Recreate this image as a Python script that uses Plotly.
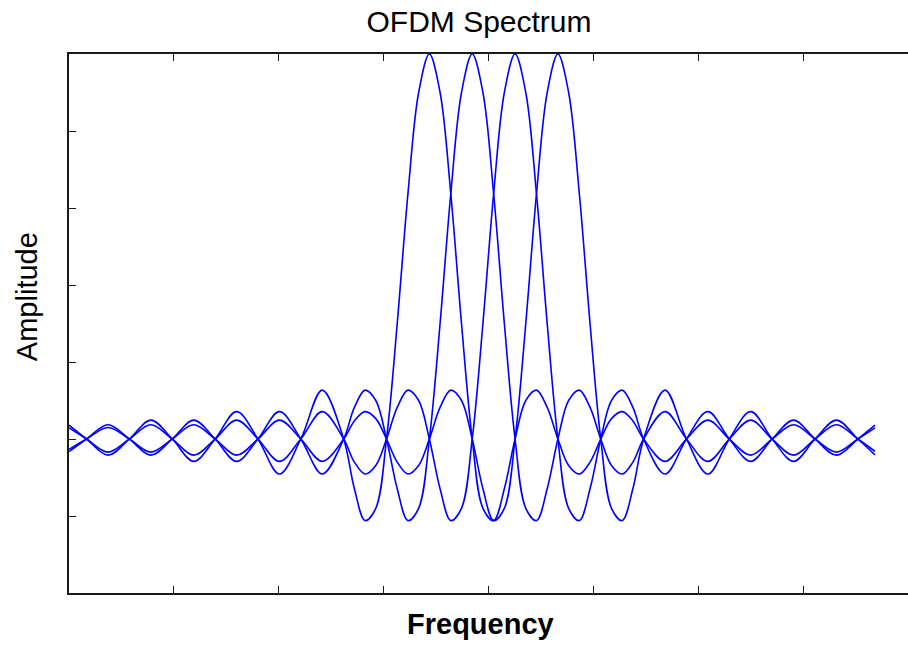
import plotly.graph_objects as go

# Frequency grid (in units of subcarrier spacing, relative to the first subcarrier)
freq = [-8.41, -8, -7.5, -7, -6.5, -6, -5.5, -5, -4.5, -4, -3.5, -3, -2.5, -2,
        -1.75, -1.5, -1.25, -1, -0.75, -0.5, -0.25, 0, 0.25, 0.5, 0.75, 1,
        1.25, 1.5, 1.75, 2, 2.25, 2.5, 2.75, 3, 3.25, 3.5, 3.75, 4, 4.25, 4.5,
        4.75, 5, 5.5, 6, 6.5, 7, 7.5, 8, 8.5, 9, 9.5, 10, 10.4]

sub1 = [0.036, 0, -0.042, 0, 0.049, 0, -0.058, 0, 0.071, 0, -0.091, 0, 0.127, 0,
        -0.129, -0.212, -0.180, 0, 0.300, 0.637, 0.900, 1, 0.900, 0.637, 0.300, 0,
        -0.180, -0.212, -0.129, 0, 0.100, 0.127, 0.082, 0, -0.069, -0.091, -0.060, 0, 0.053, 0.071,
        0.047, 0, -0.058, 0, 0.049, 0, -0.042, 0, 0.037, 0, -0.034, 0, 0.029]

sub2 = [-0.033, 0, 0.037, 0, -0.042, 0, 0.049, 0, -0.058, 0, 0.071, 0, -0.091, 0,
        0.082, 0.127, 0.100, 0, -0.129, -0.212, -0.180, 0, 0.300, 0.637, 0.900, 1,
        0.900, 0.637, 0.300, 0, -0.180, -0.212, -0.129, 0, 0.100, 0.127, 0.082, 0, -0.069, -0.091,
        -0.060, 0, 0.071, 0, -0.058, 0, 0.049, 0, -0.042, 0, 0.037, 0, -0.032]

sub3 = [0.029, 0, -0.034, 0, 0.037, 0, -0.042, 0, 0.049, 0, -0.058, 0, 0.071, 0,
        -0.060, -0.091, -0.069, 0, 0.082, 0.127, 0.100, 0, -0.129, -0.212, -0.180, 0,
        0.300, 0.637, 0.900, 1, 0.900, 0.637, 0.300, 0, -0.180, -0.212, -0.129, 0, 0.100, 0.127,
        0.082, 0, -0.091, 0, 0.071, 0, -0.058, 0, 0.049, 0, -0.042, 0, 0.036]

sub4 = [-0.027, 0, 0.030, 0, -0.034, 0, 0.037, 0, -0.042, 0, 0.049, 0, -0.058, 0,
        0.047, 0.071, 0.053, 0, -0.060, -0.091, -0.069, 0, 0.082, 0.127, 0.100, 0,
        -0.129, -0.212, -0.180, 0, 0.300, 0.637, 0.900, 1, 0.900, 0.637, 0.300, 0, -0.180, -0.212,
        -0.129, 0, 0.127, 0, -0.091, 0, 0.071, 0, -0.058, 0, 0.049, 0, -0.041]

subcarriers = [sub1, sub2, sub3, sub4]

x_range = [-8.41, 11.17]
x_tick_step = 2.4475
y_range = [-0.4, 1.0]
y_tick_step = 0.2

FONT = "Liberation Sans, Arial, sans-serif"
AXIS_COLOR = "#1a1a1a"

fig = go.Figure()
for vals in subcarriers:
    fig.add_trace(go.Scatter(
        x=freq, y=vals, mode="lines",
        line=dict(color="#0000ff", width=1.6, shape="spline", smoothing=1.0),
        showlegend=False, hoverinfo="skip",
    ))

fig.update_xaxes(
    range=x_range, tick0=x_range[0], dtick=x_tick_step,
    ticks="inside", ticklen=7, tickwidth=1.3, tickcolor=AXIS_COLOR,
    showticklabels=False, showgrid=False, zeroline=False,
    showline=True, linecolor=AXIS_COLOR, linewidth=1.8, mirror="ticks",
)
fig.update_yaxes(
    range=y_range, tick0=0, dtick=y_tick_step,
    ticks="inside", ticklen=7, tickwidth=1.3, tickcolor=AXIS_COLOR,
    showticklabels=False, showgrid=False, zeroline=False,
    showline=True, linecolor=AXIS_COLOR, linewidth=1.8, mirror=False,
)

fig.update_layout(
    width=908, height=649,
    margin=dict(l=69, r=0, t=54, b=56),
    plot_bgcolor="white", paper_bgcolor="white",
    title=dict(text="OFDM Spectrum", x=479 / 908, xref="container", xanchor="center",
               y=1 - 21 / 649, yref="container", yanchor="middle",
               font=dict(family=FONT, size=30, color="black")),
    annotations=[
        dict(text="<b>Frequency</b>", x=0.491, y=-0.058, xref="paper", yref="paper",
             xanchor="center", yanchor="middle", showarrow=False,
             font=dict(family=FONT, size=29, color="black")),
        dict(text="Amplitude", x=-0.050, y=0.549, xref="paper", yref="paper",
             xanchor="center", yanchor="middle", showarrow=False, textangle=-90,
             font=dict(family=FONT, size=29, color="black")),
    ],
)

fig.write_html(
    "out.html",
    config={"displayModeBar": False},
    post_script="document.body.style.margin='0px';document.body.style.overflow='hidden';",
)
